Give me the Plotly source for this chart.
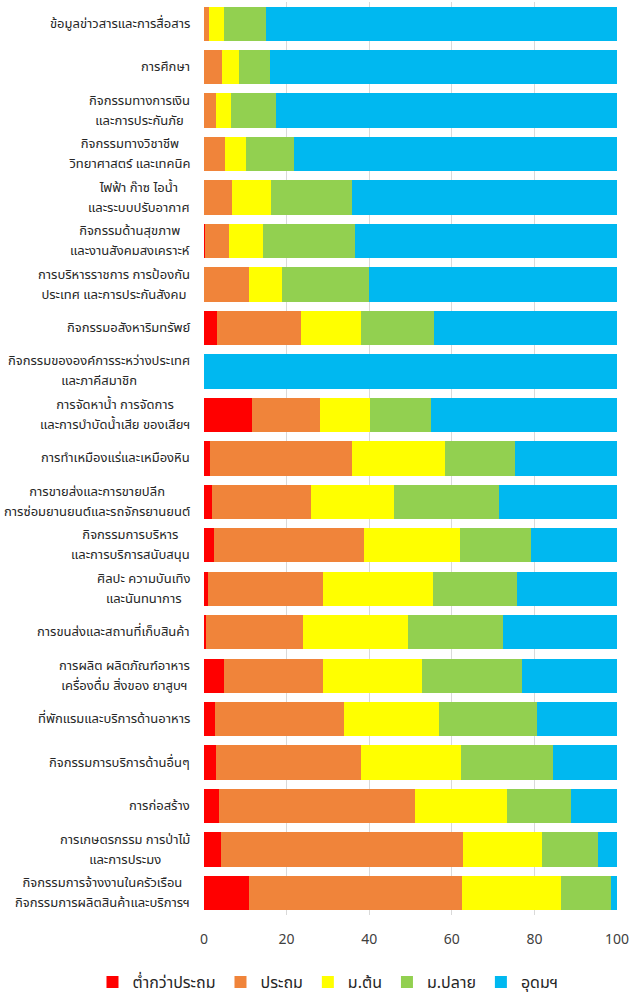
import plotly.graph_objects as go

categories = [
    "ข้อมูลข่าวสารและการสื่อสาร",
    "การศึกษา",
    "กิจกรรมทางการเงิน<br>และการประกันภัย",
    "กิจกรรมทางวิชาชีพ<br>วิทยาศาสตร์ และเทคนิค",
    "ไฟฟ้า ก๊าซ ไอน้ำ<br>และระบบปรับอากาศ",
    "กิจกรรมด้านสุขภาพ<br>และงานสังคมสงเคราะห์",
    "การบริหารราชการ การป้องกัน<br>ประเทศ และการประกันสังคม",
    "กิจกรรมอสังหาริมทรัพย์",
    "กิจกรรมขององค์การระหว่างประเทศ<br>และภาคีสมาชิก",
    "การจัดหาน้ำ การจัดการ<br>และการบำบัดน้ำเสีย ของเสียฯ",
    "การทำเหมืองแร่และเหมืองหิน",
    "การขายส่งและการขายปลีก<br>การซ่อมยานยนต์และรถจักรยานยนต์",
    "กิจกรรมการบริหาร<br>และการบริการสนับสนุน",
    "ศิลปะ ความบันเทิง<br>และนันทนาการ",
    "การขนส่งและสถานที่เก็บสินค้า",
    "การผลิต ผลิตภัณฑ์อาหาร<br>เครื่องดื่ม สิ่งของ ยาสูบฯ",
    "ที่พักแรมและบริการด้านอาหาร",
    "กิจกรรมการบริการด้านอื่นๆ",
    "การก่อสร้าง",
    "การเกษตรกรรม การป่าไม้<br>และการประมง",
    "กิจกรรมการจ้างงานในครัวเรือน<br>กิจกรรมการผลิตสินค้าและบริการฯ",
]

below_primary = [0.0, 0.0, 0.0, 0.0, 0.0, 0.3, 0.0, 3.2, 0.0, 11.6, 1.4, 1.9, 2.4, 0.9, 0.5, 4.8, 2.7, 3.0, 3.7, 4.0, 10.8]
primary       = [1.3, 4.4, 2.9, 5.0, 6.8, 5.7, 11.0, 20.4, 0.0, 16.5, 34.4, 23.9, 36.3, 27.8, 23.4, 23.9, 31.2, 35.0, 47.5, 58.8, 51.7]
lower_sec     = [3.5, 4.0, 3.7, 5.2, 9.5, 8.3, 7.9, 14.4, 0.0, 12.2, 22.6, 20.1, 23.4, 26.8, 25.6, 24.2, 23.0, 24.3, 22.2, 19.0, 23.9]
upper_sec     = [10.3, 7.6, 10.8, 11.6, 19.5, 22.2, 21.1, 17.8, 0.0, 14.6, 17.0, 25.6, 17.0, 20.3, 23.0, 24.1, 23.8, 22.1, 15.5, 13.6, 12.1]
higher        = [84.9, 84.0, 82.6, 78.2, 64.2, 63.5, 60.0, 44.2, 100.0, 45.1, 24.6, 28.5, 20.9, 24.2, 27.5, 23.0, 19.3, 15.6, 11.1, 4.6, 1.5]

series_names = ["ต่ำกว่าประถม", "ประถม", "ม.ต้น", "ม.ปลาย", "อุดมฯ"]
series_values = [below_primary, primary, lower_sec, upper_sec, higher]
series_colors = ["#FF0000", "#F0843A", "#FFFF00", "#92D050", "#00B8F0"]

x_ticks = [0, 20, 40, 60, 80, 100]

FONT = "Tahoma, 'Noto Sans Thai', 'Noto Sans', sans-serif"

fig = go.Figure()
for name, vals, col in zip(series_names, series_values, series_colors):
    fig.add_trace(go.Bar(
        y=categories, x=vals, name=name, orientation="h",
        marker=dict(color=col, line=dict(width=0)),
        hoverinfo="skip",
    ))

for cat in categories:
    label = "<br>".join(
        f"<span style='font-size:13px'>{part}</span>" for part in cat.split("<br>")
    )
    fig.add_annotation(
        x=0, xref="paper", y=cat, yref="y",
        text=label, showarrow=False, xanchor="right", xshift=-12,
        align="center", font=dict(size=15.4, color="#262626", family=FONT),
    )

fig.update_layout(
    width=631, height=994,
    barmode="stack", bargap=0.21,
    margin=dict(l=204, r=14, t=2, b=79, autoexpand=False),
    plot_bgcolor="white", paper_bgcolor="white",
    font=dict(family=FONT, color="#404040"),
    showlegend=True,
    legend=dict(
        orientation="h", xref="paper", x=-0.27, xanchor="left",
        yref="paper", y=-0.0734, yanchor="middle",
        font=dict(size=16, color="#262626", family=FONT),
        traceorder="normal", itemwidth=30,
    ),
    xaxis=dict(
        range=[0, 100], tickvals=x_ticks, showgrid=True, gridcolor="#D9D9D9",
        gridwidth=1, zeroline=False, showline=False,
        tickfont=dict(size=14, color="#404040"), ticks="", ticklabelstandoff=14,
    ),
    yaxis=dict(
        autorange="reversed", showticklabels=False, showgrid=False,
        zeroline=False, showline=False, ticks="",
    ),
)

fig.write_html(
    "out.html",
    config={"displayModeBar": False},
    post_script="document.body.style.margin='0';document.body.style.overflow='hidden';",
)
